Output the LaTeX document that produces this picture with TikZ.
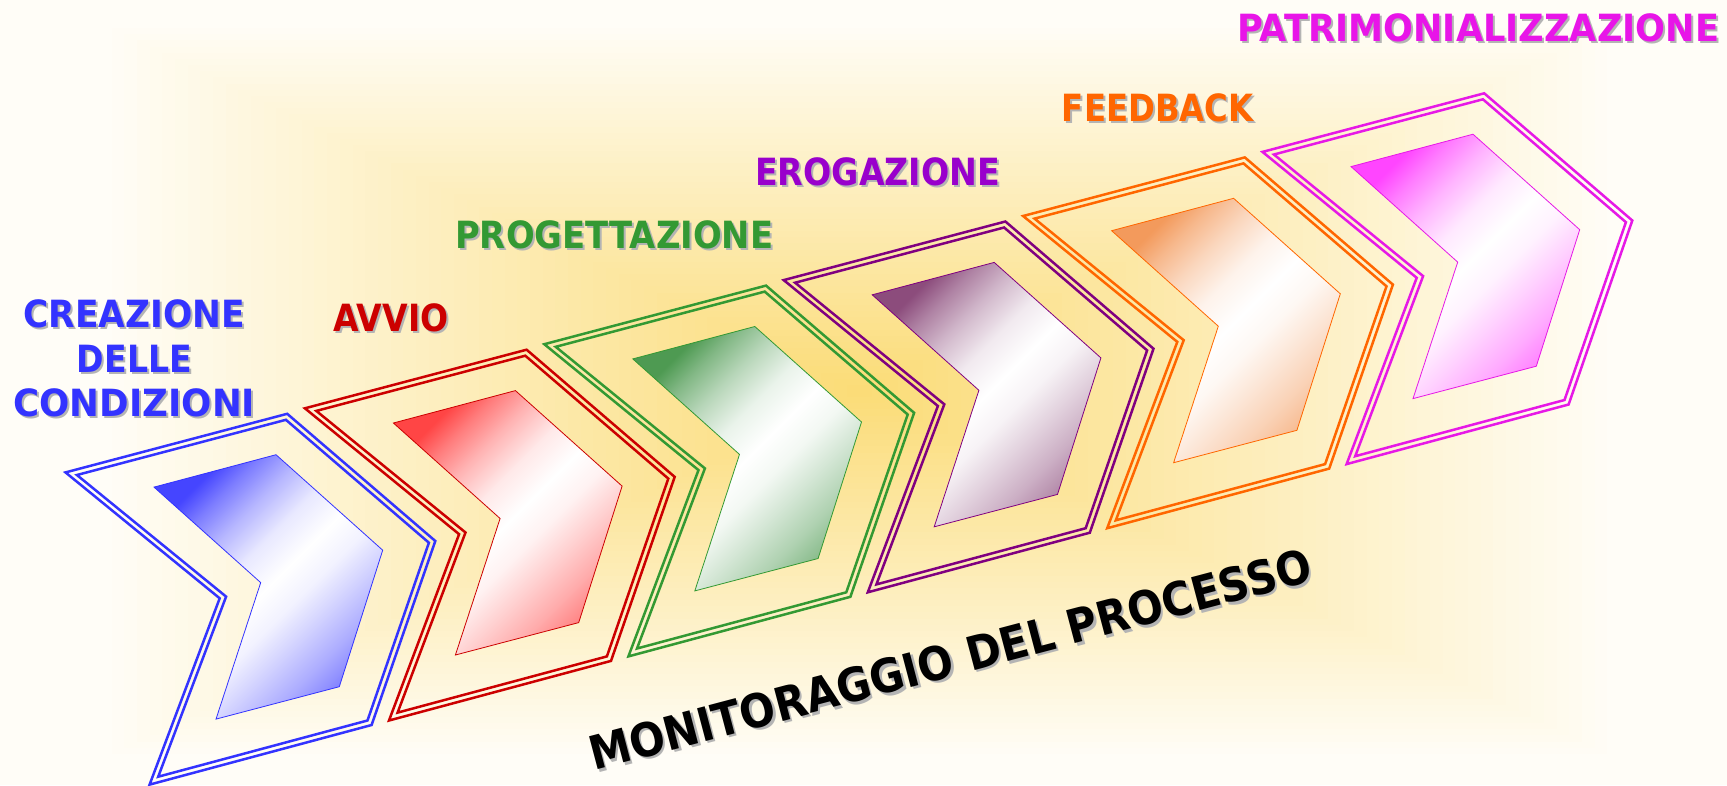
\documentclass[tikz,border=0pt]{standalone}
\usepackage{fontspec}
\setmainfont{DejaVu Sans}
\usepackage{graphicx}
\definecolor{bgo}{HTML}{FFFDF7}
\definecolor{bgc}{HTML}{FBDC78}
\definecolor{shadowgray}{HTML}{B4B4B4}
\definecolor{cBlue}{HTML}{3333FF}
\definecolor{cRed}{HTML}{CC0000}
\definecolor{cGreen}{HTML}{339933}
\definecolor{cPurple}{HTML}{800080}
\definecolor{cOrange}{HTML}{FF6600}
\definecolor{cMag}{HTML}{E619E6}
\definecolor{tPurple}{HTML}{9900CC}
\definecolor{tMag}{HTML}{E815E8}
\definecolor{fBlue}{HTML}{4545FF}
\definecolor{fRed}{HTML}{FF4545}
\definecolor{fGreen}{HTML}{4E9A52}
\definecolor{fPurple}{HTML}{8C4C7C}
\definecolor{fOrange}{HTML}{F39A5C}
\definecolor{fMag}{HTML}{FF45FF}
\colorlet{chevc}{fBlue}
\pgfdeclareverticalshading[chevc]{chevshade}{100bp}{%
 color(0bp)=(chevc!68!white);
 color(25bp)=(chevc!68!white);
 color(31bp)=(chevc!45!white);
 color(38bp)=(chevc!24!white);
 color(44bp)=(chevc!7!white);
 color(50bp)=(white);
 color(57bp)=(chevc!12!white);
 color(64bp)=(chevc!40!white);
 color(70bp)=(chevc!70!white);
 color(75bp)=(chevc);
 color(100bp)=(chevc)}
\begin{document}
\begin{tikzpicture}[x=1pt,y=-1pt,
  lbl/.style={inner sep=0pt, anchor=base west, font=\bfseries\fontsize{37.5}{40}\selectfont},
  shd/.style={lbl, text=shadowgray},
  outl/.style={line width=2.5pt, line join=miter}]
\useasboundingbox (0,0) rectangle (1727,785);
% background: rectangular "from centre" gradient
\begin{scope}
\clip (0,0) rectangle (1727,785);
\fill[bgo] (0,0) rectangle (1727,785);
\foreach \k in {0,...,59}{
  \pgfmathsetmacro\s{1-\k/60}
  \pgfmathsetmacro\p{100*\k/59}
  \fill[bgc!\p!bgo] (859.5-760.5*\s, 391-369*\s) rectangle (859.5+760.5*\s, 391+369*\s);
}
\end{scope}
% chevrons
\foreach \i/\lc/\fc in {0/cBlue/fBlue,1/cRed/fRed,2/cGreen/fGreen,3/cPurple/fPurple,4/cOrange/fOrange,5/cMag/fMag}{
\begin{scope}[shift={(239.4*\i,-64.1*\i)}]
\colorlet{chevc}{\fc}
\draw[outl,\lc] (65.5,472.4) -- (287.2,413.8) -- (435.3,541.0) -- (371.6,725.0) -- (149.6,784.6) -- (219.7,598.3) -- cycle;
\draw[outl,\lc] (76.9,475.0) -- (285.9,419.8) -- (428.9,542.7) -- (367.5,720.5) -- (158.2,776.7) -- (226.1,596.6) -- cycle;
\shade[draw=\lc, line width=0.8pt, shading=chevshade, shading angle=45]
  (154,487.1) -- (276,454.7) -- (382.7,550.2) -- (339.3,686.7) -- (216,719.1) -- (260.7,582.6) -- cycle;
\end{scope}}
% labels
\node[shd] at (25.3,329.8) {\resizebox{221.7pt}{\height}{CREAZIONE}};
\node[lbl, text=cBlue] (creazione) at (23.3,327.8) {\resizebox{221.7pt}{\height}{CREAZIONE}};
\node[shd] at (78.7,374.1) {\resizebox{115pt}{\height}{DELLE}};
\node[lbl, text=cBlue] (delle) at (76.7,372.1) {\resizebox{115pt}{\height}{DELLE}};
\node[shd] at (15.3,418.5) {\resizebox{241.7pt}{\height}{CONDIZIONI}};
\node[lbl, text=cBlue] (condizioni) at (13.3,416.5) {\resizebox{241.7pt}{\height}{CONDIZIONI}};
\node[shd] at (335.3,333) {\resizebox{115pt}{\height}{AVVIO}};
\node[lbl, text=cRed] (avvio) at (333.3,331) {\resizebox{115pt}{\height}{AVVIO}};
\node[shd] at (457,250.3) {\resizebox{318pt}{\height}{PROGETTAZIONE}};
\node[lbl, text=cGreen] (progettazione) at (455,248.3) {\resizebox{318pt}{\height}{PROGETTAZIONE}};
\node[shd] at (757,187) {\resizebox{245pt}{\height}{EROGAZIONE}};
\node[lbl, text=tPurple] (erogazione) at (755,185) {\resizebox{245pt}{\height}{EROGAZIONE}};
\node[shd] at (1063.7,123.7) {\resizebox{191.6pt}{\height}{FEEDBACK}};
\node[lbl, text=cOrange] (feedback) at (1061.7,121.7) {\resizebox{191.6pt}{\height}{FEEDBACK}};
\node[shd] at (1239,43.7) {\resizebox{482pt}{\height}{PATRIMONIALIZZAZIONE}};
\node[lbl, text=tMag] (patrimonializzazione) at (1237,41.7) {\resizebox{482pt}{\height}{PATRIMONIALIZZAZIONE}};
\node[shd, font=\bfseries\fontsize{46.5}{50}\selectfont, rotate=14.8] at (596.5,773.5) {\resizebox{745pt}{\height}{MONITORAGGIO DEL PROCESSO}};
\node[lbl, font=\bfseries\fontsize{46.5}{50}\selectfont, rotate=14.8, text=black] (monitoraggio) at (594,771) {\resizebox{745pt}{\height}{MONITORAGGIO DEL PROCESSO}};
\end{tikzpicture}
\end{document}
